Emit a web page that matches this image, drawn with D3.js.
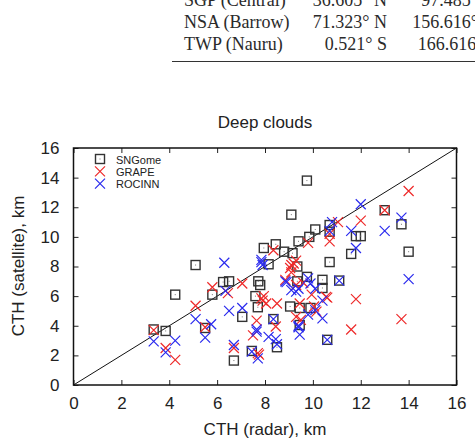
<!DOCTYPE html>
<html>
<head>
<meta charset="utf-8">
<script src="https://cdn.jsdelivr.net/npm/d3@7"></script>
<style>
  body { margin: 0; background: #fff; }
  svg { display: block; }
</style>
</head>
<body>
<div class="svgContainer"></div>
<script>
// table fragment above the chart
let tableSites = ["SGP (Central)", "NSA (Barrow)", "TWP (Nauru)"];
let tableLat = ["36.605° N", "71.323° N", "0.521° S"];
let tableLon = ["97.485° W", "156.616° W", "166.616° E"];

let xTicks = [0, 2, 4, 6, 8, 10, 12, 14, 16];
let yTicks = [0, 2, 4, 6, 8, 10, 12, 14, 16];

let seriesNames = ["SNGome", "GRAPE", "ROCINN"];

// [radar CTH, satellite CTH] in km
let sngome = [
  [3.35, 3.75], [3.85, 3.65], [4.25, 6.1], [5.1, 8.1], [5.5, 3.85], [5.8, 6.1],
  [6.25, 6.95], [6.5, 7.0], [6.7, 1.65], [7.05, 4.6], [7.45, 2.3], [7.6, 6.0],
  [7.7, 5.25], [7.72, 7.0], [7.8, 6.75], [7.95, 9.25], [8.15, 8.15], [8.35, 4.45],
  [8.5, 2.55], [8.45, 9.5], [8.8, 9.0], [9.05, 5.3], [9.1, 11.5], [9.15, 8.9],
  [9.35, 8.0], [9.35, 7.0], [9.4, 9.7], [9.45, 5.2], [9.45, 4.05], [9.75, 13.8],
  [9.75, 7.3], [9.85, 10.0], [9.9, 5.2], [10.1, 10.5], [10.4, 7.1], [10.4, 6.55],
  [10.6, 3.05], [10.7, 10.8], [10.7, 10.35], [10.7, 8.3], [11.1, 7.05], [11.6, 8.85],
  [11.8, 10.05], [12.0, 10.05], [13.0, 11.8], [13.7, 10.85], [14.0, 9.0]
];
let grape = [
  [3.35, 3.7], [3.85, 2.5], [4.25, 1.7], [5.1, 5.35], [5.5, 3.9], [5.8, 6.6],
  [6.45, 6.2], [6.7, 2.5], [7.05, 6.85], [7.5, 3.35], [7.65, 4.35], [7.7, 2.15],
  [7.75, 2.05], [7.85, 5.85], [7.9, 5.7], [7.95, 6.0], [8.05, 5.5], [8.35, 9.1],
  [8.45, 3.95], [8.5, 5.5], [8.85, 7.1], [9.05, 7.9], [9.1, 8.1], [9.1, 7.6],
  [9.2, 8.2], [9.3, 8.4], [9.3, 6.75], [9.3, 4.6], [9.45, 5.5], [9.5, 4.4],
  [9.6, 6.9], [9.8, 9.6], [9.95, 6.1], [10.05, 5.3], [10.15, 4.95], [10.55, 5.95],
  [10.6, 5.9], [10.7, 10.2], [10.7, 9.7], [11.05, 11.0], [11.6, 3.75], [11.8, 5.8],
  [12.0, 11.1], [13.0, 11.8], [13.7, 4.45], [14.0, 13.1]
];
let rocinn = [
  [3.35, 2.95], [3.85, 2.2], [4.25, 3.0], [5.1, 4.45], [5.5, 3.2], [5.75, 4.1],
  [6.3, 8.25], [6.35, 6.35], [6.5, 5.0], [6.7, 2.7], [7.05, 5.2], [7.45, 2.25],
  [7.65, 3.6], [7.65, 3.75], [7.7, 1.8], [7.85, 8.3], [7.9, 8.1], [7.85, 8.45],
  [8.15, 3.25], [8.35, 4.45], [8.45, 3.1], [8.5, 2.75], [8.85, 7.0], [8.9, 6.95],
  [9.1, 6.4], [9.3, 6.3], [9.4, 6.5], [9.4, 4.0], [9.45, 3.4], [9.4, 3.9],
  [9.8, 4.75], [9.8, 7.2], [9.9, 6.85], [10.1, 6.5], [10.1, 5.05], [10.4, 5.7],
  [10.4, 4.5], [10.6, 3.05], [10.7, 10.4], [10.8, 11.0], [11.1, 7.05], [11.6, 10.4],
  [11.8, 9.25], [12.0, 12.2], [13.0, 10.4], [13.7, 11.3], [14.0, 7.15]
];

let w = 475;
let h = 442;
let padL = 73.5, padR = 456.5, padT = 148, padB = 385;

let xScale = d3.scaleLinear().domain([0, 16]).range([padL, padR]);
let yScale = d3.scaleLinear().domain([0, 16]).range([padB, padT]);

const svg = d3.select(".svgContainer")
  .append("svg")
  .attr("width", w)
  .attr("height", h);

// table
let tbl = svg.append("g")
  .style("font-family", "'Liberation Serif', 'Times New Roman', serif")
  .style("font-size", "18px")
  .attr("fill", "#2a2a2a");

tableSites.forEach((s, i) => {
  let yy = 5.5 + i * 22;
  tbl.append("text").attr("x", 184).attr("y", yy).text(s);
  tbl.append("text").attr("x", 387).attr("y", yy).attr("text-anchor", "end").text(tableLat[i]);
  tbl.append("text").attr("x", 499).attr("y", yy).attr("text-anchor", "end").text(tableLon[i]);
});

svg.append("line")
  .attr("x1", 172).attr("x2", 475)
  .attr("y1", 61.5).attr("y2", 61.5)
  .attr("stroke", "#333")
  .attr("stroke-width", 1.2);

let sans = "'Liberation Sans', Arial, sans-serif";

svg.append("text")
  .attr("x", 265).attr("y", 128)
  .attr("text-anchor", "middle")
  .style("font-family", sans).style("font-size", "17px")
  .attr("fill", "#222")
  .text("Deep clouds");

// axes, ticks inward on all four sides
const xAxisB = d3.axisBottom(xScale).tickValues(xTicks).tickSizeInner(-5).tickSizeOuter(0).tickPadding(12);
const xAxisT = d3.axisTop(xScale).tickValues(xTicks).tickSizeInner(-5).tickSizeOuter(0).tickFormat("");
const yAxisL = d3.axisLeft(yScale).tickValues(yTicks).tickSizeInner(-5).tickSizeOuter(0).tickPadding(14);
const yAxisR = d3.axisRight(yScale).tickValues(yTicks).tickSizeInner(-5).tickSizeOuter(0).tickFormat("");

let axes = [
  [xAxisB, `translate(0, ${padB})`],
  [xAxisT, `translate(0, ${padT})`],
  [yAxisL, `translate(${padL}, 0)`],
  [yAxisR, `translate(${padR}, 0)`]
];
axes.forEach(([ax, tr]) => {
  let g = svg.append("g").attr("transform", tr).call(ax);
  g.select(".domain").remove();
  g.selectAll(".tick line").attr("stroke", "#222");
  g.selectAll("text")
    .style("font-family", sans)
    .style("font-size", "17px")
    .attr("fill", "#222");
});

svg.append("rect")
  .attr("x", padL).attr("y", padT)
  .attr("width", padR - padL).attr("height", padB - padT)
  .attr("fill", "none")
  .attr("stroke", "#111")
  .attr("stroke-width", 1.5);

// 1:1 line
svg.append("line")
  .attr("x1", xScale(0)).attr("y1", yScale(0))
  .attr("x2", xScale(16)).attr("y2", yScale(16))
  .attr("stroke", "#111")
  .attr("stroke-width", 1);

svg.append("text")
  .attr("x", 265).attr("y", 435)
  .attr("text-anchor", "middle")
  .style("font-family", sans).style("font-size", "17px")
  .attr("fill", "#222")
  .text("CTH (radar), km");

svg.append("text")
  .attr("transform", "rotate(-90)")
  .attr("x", -266).attr("y", 24)
  .attr("text-anchor", "middle")
  .style("font-family", sans).style("font-size", "17px")
  .attr("fill", "#222")
  .text("CTH (satellite), km");

// markers
function drawSquares(g, data, sx, sy) {
  g.selectAll(".sq").data(data).enter()
    .append("rect")
    .attr("x", d => sx(d) - 4.5)
    .attr("y", d => sy(d) - 4.5)
    .attr("width", 9).attr("height", 9)
    .attr("fill", "none")
    .attr("stroke", "#333")
    .attr("stroke-width", 1.4);
  g.selectAll(".dot").data(data).enter()
    .append("rect")
    .attr("x", d => sx(d) - 0.5)
    .attr("y", d => sy(d) - 0.5)
    .attr("width", 1).attr("height", 1)
    .attr("fill", "#777");
}

function drawCross(g, data, sx, sy, color) {
  g.selectAll(".x").data(data).enter()
    .append("path")
    .attr("d", d => {
      let x = sx(d), y = sy(d);
      return `M${x - 5},${y - 5}L${x + 5},${y + 5}M${x - 5},${y + 5}L${x + 5},${y - 5}`;
    })
    .attr("stroke", color)
    .attr("stroke-width", 1.2)
    .attr("fill", "none");
}

let px = d => xScale(d[0]);
let py = d => yScale(d[1]);

drawSquares(svg.append("g"), sngome, px, py);
drawCross(svg.append("g"), grape, px, py, "#ee2a2a");
drawCross(svg.append("g"), rocinn, px, py, "#2a2aee");

// legend
let leg = svg.append("g");
let legColors = [null, "#ee2a2a", "#2a2aee"];
seriesNames.forEach((name, i) => {
  let ly = 159 + i * 12.3;
  if (i === 0) {
    drawSquares(leg.append("g"), [[100, ly]], d => d[0], d => d[1]);
  } else {
    drawCross(leg.append("g"), [[100, ly]], d => d[0], d => d[1], legColors[i]);
  }
  leg.append("text")
    .attr("x", 116).attr("y", ly + 4.5)
    .style("font-family", sans).style("font-size", "11px")
    .attr("fill", "#222")
    .text(name);
});
</script>
</body>
</html>
